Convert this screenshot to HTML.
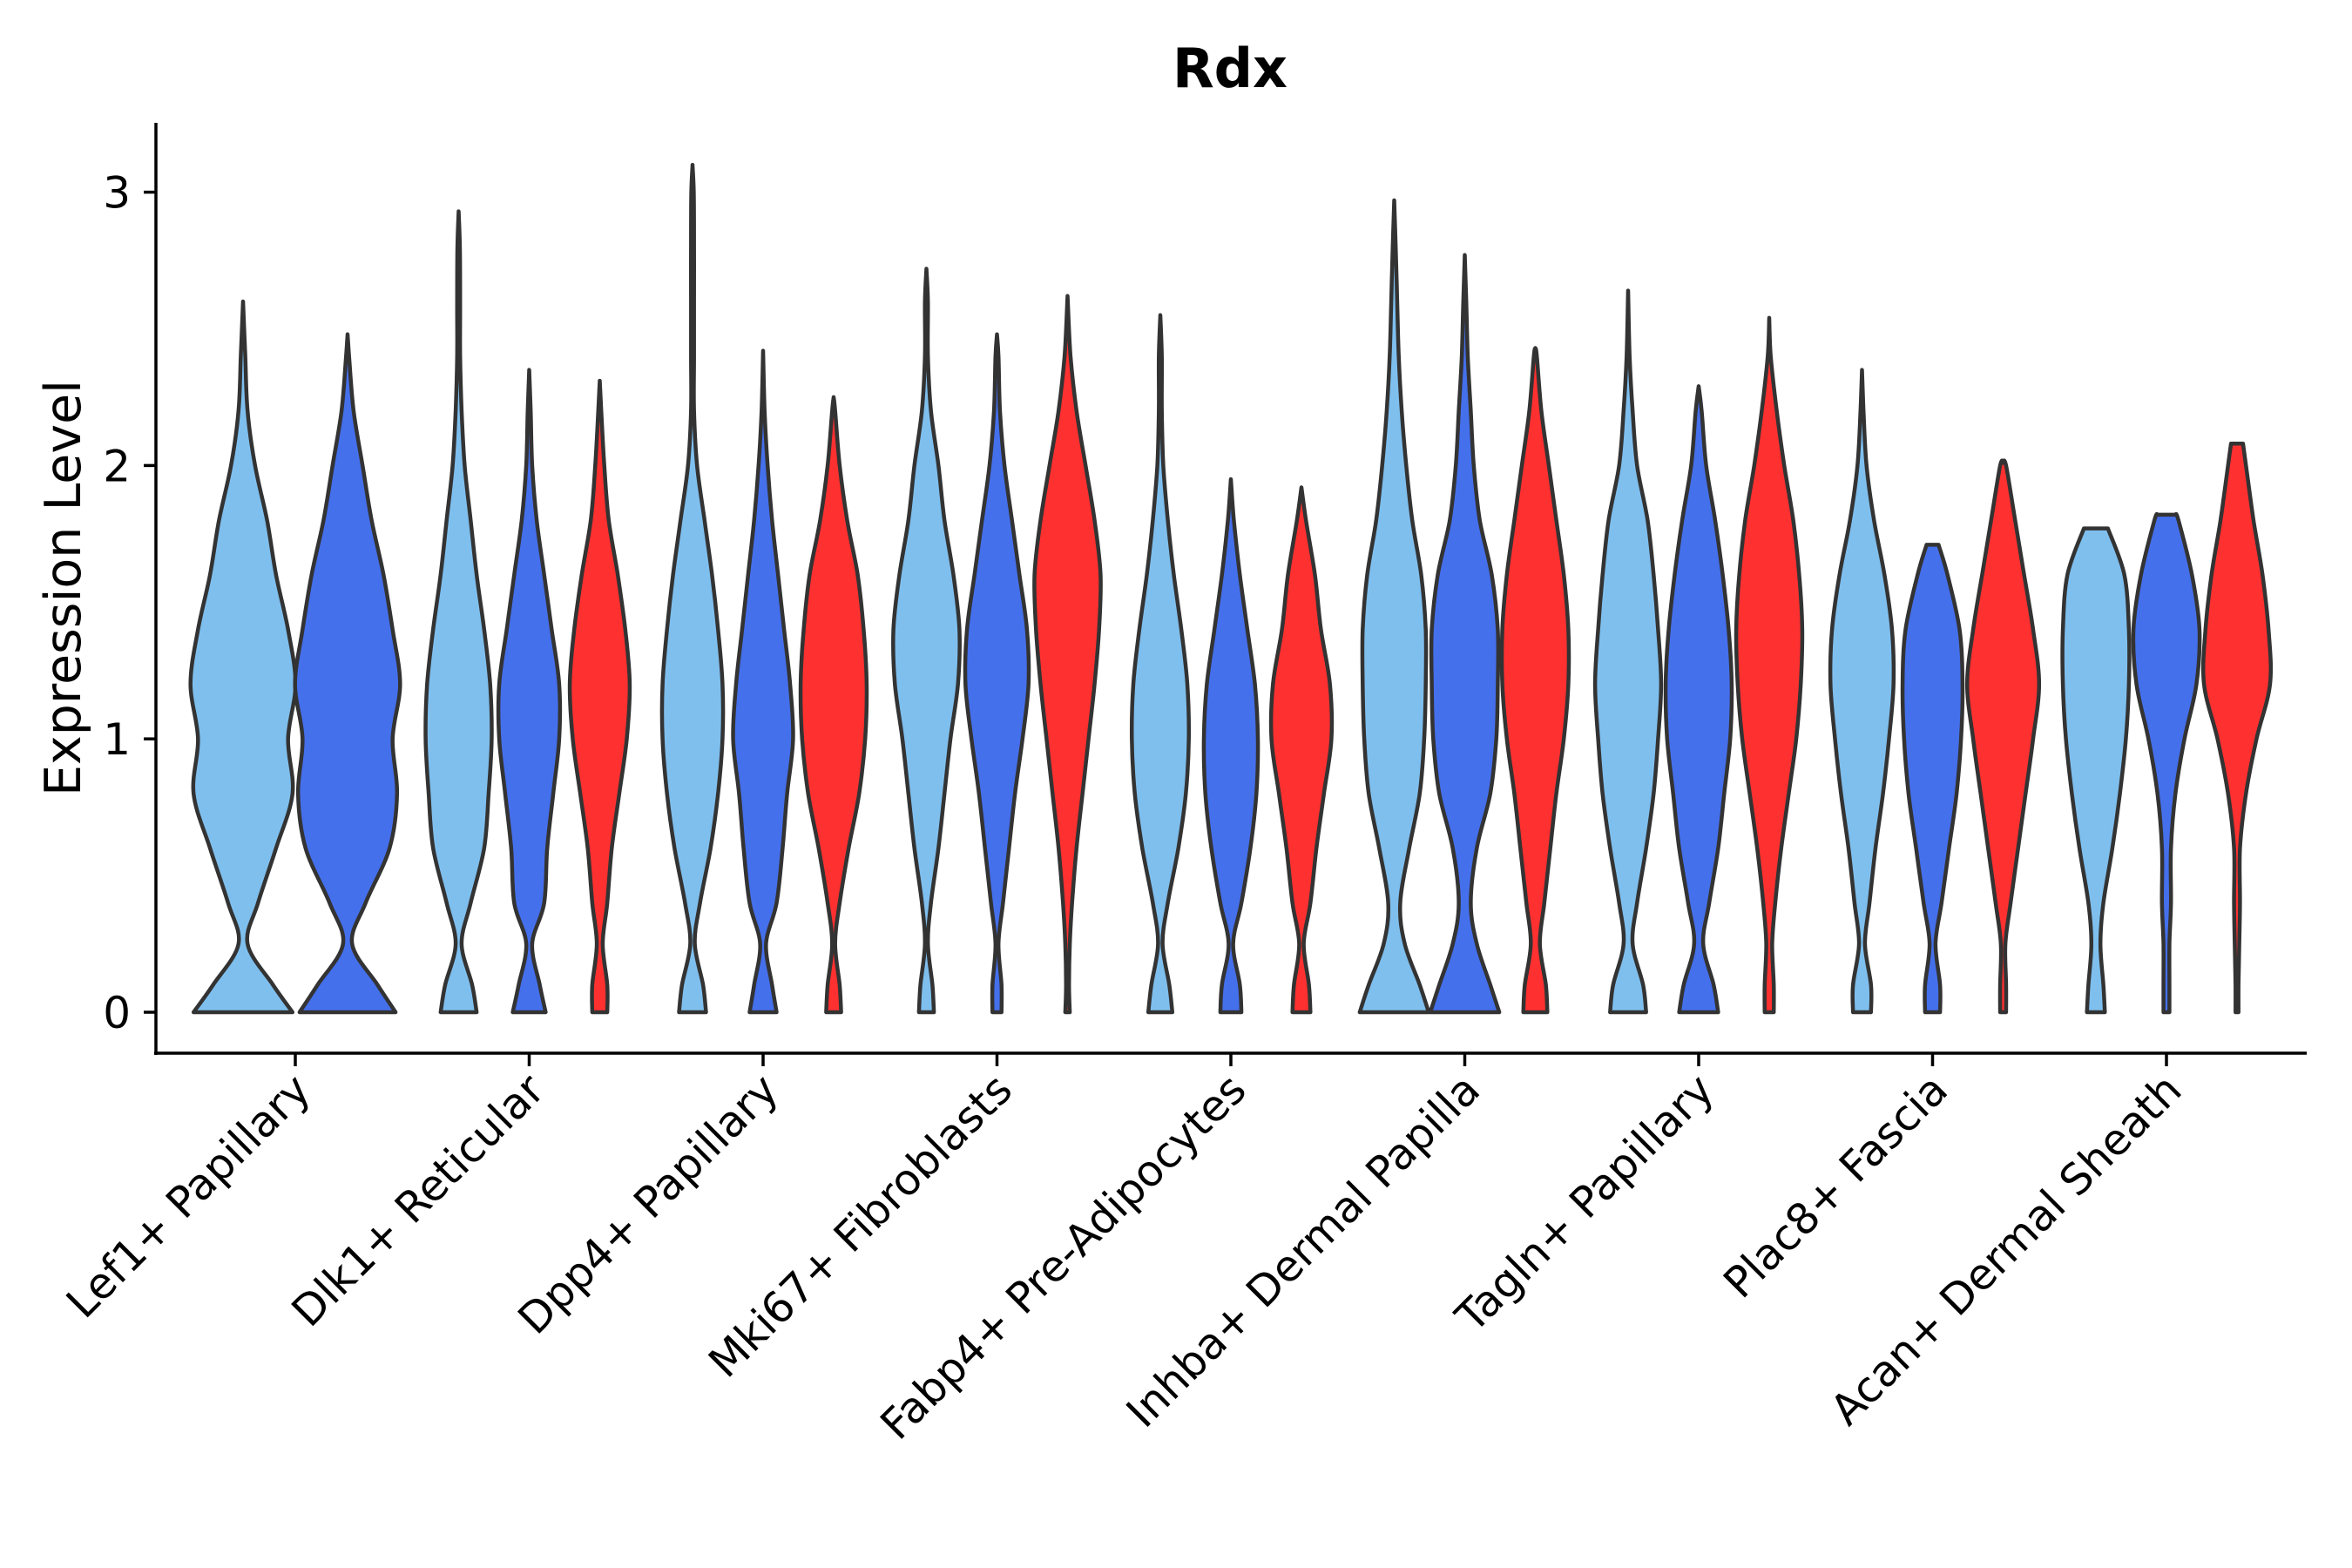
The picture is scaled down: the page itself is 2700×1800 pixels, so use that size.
<!DOCTYPE html>
<html><head><meta charset="utf-8"><style>
html,body{margin:0;padding:0;background:#fff;}
svg{display:block;font-family:"DejaVu Sans","Liberation Sans",sans-serif;}
</style></head><body>
<svg id="chart" width="2700" height="1800" viewBox="0 0 2700 1800">
<text x="1412" y="100" text-anchor="middle" font-size="62" font-weight="bold">Rdx</text>
<text transform="translate(92,675) rotate(-90)" text-anchor="middle" font-size="57">Expression Level</text>
<g id="violins"></g>
<line x1="179" y1="141" x2="179" y2="1211" stroke="#000" stroke-width="3.5"/>
<line x1="177" y1="1209" x2="2648" y2="1209" stroke="#000" stroke-width="3.5"/>
<g id="yticks"></g>
<g id="xticks"></g>
</svg>
<script>
const categories = ["Lef1+ Papillary","Dlk1+ Reticular","Dpp4+ Papillary","Mki67+ Fibroblasts","Fabp4+ Pre-Adipocytes","Inhba+ Dermal Papilla","Tagln+ Papillary","Plac8+ Fascia","Acan+ Dermal Sheath"];
const yTicks = [0,1,2,3];
const levels = [0,0.1,0.25,0.4,0.6,0.8,1.0,1.2,1.4,1.6,1.8,2.0,2.2,2.4,2.6,2.8,3.0];
const seriesColors = ["#7FBFEE","#4570EC","#FF3030"];
// per violin: group index, series index, max value, flat top half-width, densities (half widths) at levels
const vGroup = [0,0, 1,1,1, 2,2,2, 3,3,3, 4,4,4, 5,5,5, 6,6,6, 7,7,7, 8,8,8];
const vSeries = [0,1, 0,1,2, 0,1,2, 0,1,2, 0,1,2, 0,1,2, 0,1,2, 0,1,2, 0,1,2];
const vMax = [2.6,2.48, 2.93,2.35,2.31, 3.1,2.42,2.25, 2.72,2.48,2.62, 2.55,1.95,1.92, 2.97,2.77,2.43, 2.64,2.29,2.54, 2.35,1.71,2.01, 1.77,1.82,2.08];
const vTop = [0,0, 0,0,0, 0,0,0, 0,0,0, 0,0,0, 0,0,0, 0,0,0, 0,4,0, 8,6,4];
const vDens = [
 [33,20,3,10,22,33,30,35,30,22,16,8,3,1.5],
 [32,20,3,12,28,33,30,35,30,24,16,10,4,1],
 [12,9,2,8,17,20,22,21,17,12,8,4,2,1,1,0.8],
 [11,7,2,10,12,16,20,20,15,10,5,2,1],
 [5,5,2,5,8,13,18,20,17,12,6,3,1],
 [9,7,1.5,5,12,17,20,20,17,13,8,3,1,1,1,1,0.8],
 [9,6,2,9,13,16,20,18,14,10,6,3,1],
 [5,4,1,4,10,17,21,22,20,16,9,4,1],
 [5,4,1,3,8,12,16,21,22,18,12,8,3,1,1],
 [3,3,1,4,8,12,17,21,20,15,10,5,2,1],
 [1.5,1,1.5,3,6,10,14,18,21,22,18,12,6,2],
 [8,6,1.5,5,12,17,19,18,14,9,5,2,1,1],
 [7,6,1.5,7,13,17,18,16,11,6,2],
 [6,5,1.5,6,10,15,20,19,13,9,3],
 [23,17,7,4,10,17,20,21,21,18,12,8,5,3,2,1],
 [23,17,8,4,8,17,21,22,22,18,10,6,4,2,1],
 [8,7,3,6,10,14,19,22,22,19,14,9,4,1],
 [12,10,3,6,12,17,20,22,20,17,13,6,3,1],
 [13,10,3,7,13,17,21,22,20,16,11,5,2],
 [3,3,2,4,8,13,18,21,22,20,16,10,5,1],
 [6,6,2,5,9,14,18,21,20,15,8,3,1],
 [5,5,2,6,11,16,19,20,18,10],
 [2,2,1.5,5,10,15,20,24,20,14,8,2],
 [6,5,3,5,11,16,20,22,22,19],
 [2,2,2,3,3,6,12,20,22,17,8],
 [1,1,1.5,2,2,6,13,22,21,17,11,6]
];
const NS = "http://www.w3.org/2000/svg";
function yScale(v){ return 1162 - v*313.8; }
function xGroup(i){ return 339 + i*268.5; }
function wScale(d){ return d*1.722; }
function nSeries(g){ return vGroup.filter(x=>x===g).length; }
function xViolin(g,s){ const n=nSeries(g); const off = n===3?81:120; return xGroup(g) + (s-(n-1)/2)*off; }
function crPath(pts){
  let d = "M"+pts[0][0].toFixed(1)+","+pts[0][1].toFixed(1);
  for(let i=0;i<pts.length-1;i++){
    const p0=pts[Math.max(0,i-1)],p1=pts[i],p2=pts[i+1],p3=pts[Math.min(pts.length-1,i+2)];
    const c1=[p1[0]+(p2[0]-p0[0])/6,p1[1]+(p2[1]-p0[1])/6];
    const c2=[p2[0]-(p3[0]-p1[0])/6,p2[1]-(p3[1]-p1[1])/6];
    d+="C"+c1[0].toFixed(1)+","+c1[1].toFixed(1)+" "+c2[0].toFixed(1)+","+c2[1].toFixed(1)+" "+p2[0].toFixed(1)+","+p2[1].toFixed(1);
  }
  return d;
}
const vg = document.getElementById("violins");
for(let k=0;k<vMax.length;k++){
  const cx = xViolin(vGroup[k], vSeries[k]);
  const dens = vDens[k];
  const max = vMax[k];
  const prof = [];
  for(let j=0;j<dens.length && levels[j]<max;j++) prof.push([levels[j], dens[j]]);
  prof.push([max, vTop[k]]);
  const right = prof.map(p=>[cx+wScale(p[1]), yScale(p[0])]);
  const left = prof.map(p=>[cx-wScale(p[1]), yScale(p[0])]).reverse();
  let d = crPath(right);
  d += "L"+left[0][0].toFixed(1)+","+left[0][1].toFixed(1);
  d += crPath(left).replace(/^M[^C]*/,"");
  d += "Z";
  const path = document.createElementNS(NS,"path");
  path.setAttribute("d", d);
  path.setAttribute("fill", seriesColors[vSeries[k]]);
  path.setAttribute("stroke", "#333");
  path.setAttribute("stroke-width", "4.5");
  path.setAttribute("stroke-linejoin", "round");
  
  
  vg.appendChild(path);
}
const yt = document.getElementById("yticks");
yTicks.forEach(v=>{
  const y=yScale(v);
  const l=document.createElementNS(NS,"line");
  l.setAttribute("x1",165);l.setAttribute("x2",179);l.setAttribute("y1",y);l.setAttribute("y2",y);
  l.setAttribute("stroke","#000");l.setAttribute("stroke-width","3.5");
  
  
  yt.appendChild(l);
  const t=document.createElementNS(NS,"text");
  t.setAttribute("x",150);t.setAttribute("y",y+18);t.setAttribute("text-anchor","end");t.setAttribute("font-size","50");
  t.textContent=String(v);
  
  
  yt.appendChild(t);
});
const xt = document.getElementById("xticks");
categories.forEach((c,i)=>{
  const x=xGroup(i);
  const l=document.createElementNS(NS,"line");
  l.setAttribute("x1",x);l.setAttribute("x2",x);l.setAttribute("y1",1209);l.setAttribute("y2",1224);
  l.setAttribute("stroke","#000");l.setAttribute("stroke-width","3.5");
  
  
  xt.appendChild(l);
  const t=document.createElementNS(NS,"text");
  t.setAttribute("transform","translate("+(x+20)+",1254) rotate(-45)");
  t.setAttribute("text-anchor","end");t.setAttribute("font-size","49");
  t.textContent=c;
  
  
  xt.appendChild(t);
});
</script>
</body></html>
